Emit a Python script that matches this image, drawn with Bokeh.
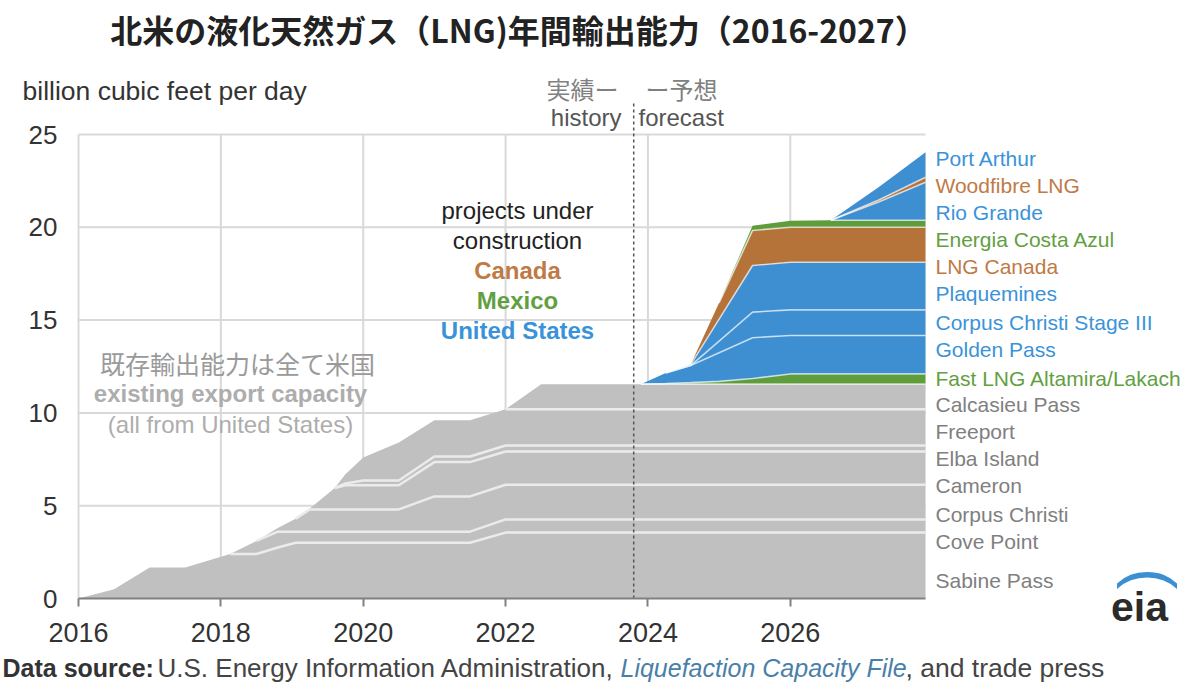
import numpy as np
from bokeh.plotting import figure
from bokeh.models import Label, FixedTicker, Range1d
from bokeh.embed import file_html
from bokeh.resources import INLINE

# ---------------- data (billion cubic feet per day, layer thickness) ----------------
years = [2016.0, 2016.5, 2017.0, 2017.5, 2018.13, 2018.5, 2018.8, 2019.05, 2019.25,
         2019.6, 2019.75, 2020.0, 2020.5, 2021.0, 2021.5, 2022.0, 2022.5, 2023.9,
         2024.25, 2024.6, 2025.0, 2025.47, 2026.0, 2026.57, 2027.25, 2027.9]

sabine_pass = [0, 0.5, 1.67, 1.67, 2.4, 2.4, 2.75, 3.0, 3.0, 3.0, 3.0, 3.0, 3.0, 3.0, 3.0,
               3.55, 3.55, 3.55, 3.55, 3.55, 3.55, 3.55, 3.55, 3.55, 3.55, 3.55]
cove_point = [0, 0, 0, 0, 0, 0.7, 0.85, 0.6, 0.6, 0.6, 0.6, 0.6, 0.6, 0.6, 0.6,
              0.71, 0.71, 0.71, 0.71, 0.71, 0.71, 0.71, 0.71, 0.71, 0.71, 0.71]
corpus_christi = [0, 0, 0, 0, 0, 0, 0.2, 0.7, 1.2, 1.2, 1.2, 1.2, 1.2, 1.9, 1.9,
                  1.87, 1.87, 1.87, 1.87, 1.87, 1.87, 1.87, 1.87, 1.87, 1.87, 1.87]
cameron = [0, 0, 0, 0, 0, 0, 0, 0, 0.05, 1.15, 1.3, 1.3, 1.3, 1.85, 1.85,
           1.79, 1.79, 1.79, 1.79, 1.79, 1.79, 1.79, 1.79, 1.79, 1.79, 1.79]
elba_island = [0, 0, 0, 0, 0, 0, 0, 0, 0, 0, 0.1, 0.26, 0.26, 0.3, 0.3,
               0.32, 0.32, 0.32, 0.32, 0.32, 0.32, 0.32, 0.32, 0.32, 0.32, 0.32]
freeport = [0, 0, 0, 0, 0, 0, 0, 0, 0, 0, 0.5, 1.24, 2.04, 1.95, 1.95,
            1.96, 1.96, 1.96, 1.96, 1.96, 1.96, 1.96, 1.96, 1.96, 1.96, 1.96]
calcasieu_pass = [0, 0, 0, 0, 0, 0, 0, 0, 0, 0, 0, 0, 0, 0, 0,
                  0, 1.35, 1.35, 1.35, 1.35, 1.35, 1.35, 1.35, 1.35, 1.35, 1.35]
fast_lng = [0, 0, 0, 0, 0, 0, 0, 0, 0, 0, 0, 0, 0, 0, 0, 0, 0,
            0, 0.03, 0.08, 0.15, 0.30, 0.55, 0.55, 0.55, 0.55]
golden_pass = [0, 0, 0, 0, 0, 0, 0, 0, 0, 0, 0, 0, 0, 0, 0, 0, 0,
               0, 0.57, 0.92, 1.54, 2.20, 2.07, 2.07, 2.07, 2.07]
corpus_christi_stage3 = [0, 0, 0, 0, 0, 0, 0, 0, 0, 0, 0, 0, 0, 0, 0, 0, 0,
                         0, 0, 0, 0.63, 1.38, 1.38, 1.38, 1.38, 1.38]
plaquemines = [0, 0, 0, 0, 0, 0, 0, 0, 0, 0, 0, 0, 0, 0, 0, 0, 0,
               0, 0, 0.05, 1.18, 2.51, 2.57, 2.57, 2.57, 2.57]
lng_canada = [0, 0, 0, 0, 0, 0, 0, 0, 0, 0, 0, 0, 0, 0, 0, 0, 0,
              0, 0, 0, 0.88, 1.89, 1.88, 1.88, 1.88, 1.88]
energia_costa_azul = [0, 0, 0, 0, 0, 0, 0, 0, 0, 0, 0, 0, 0, 0, 0, 0, 0,
                      0, 0, 0, 0, 0.25, 0.35, 0.38, 0.38, 0.38]
rio_grande = [0, 0, 0, 0, 0, 0, 0, 0, 0, 0, 0, 0, 0, 0, 0, 0, 0,
              0, 0, 0, 0, 0, 0, 0, 1.0, 2.05]
woodfibre_lng = [0, 0, 0, 0, 0, 0, 0, 0, 0, 0, 0, 0, 0, 0, 0, 0, 0,
                 0, 0, 0, 0, 0, 0, 0, 0.1, 0.27]
port_arthur = [0, 0, 0, 0, 0, 0, 0, 0, 0, 0, 0, 0, 0, 0, 0, 0, 0,
               0, 0, 0, 0, 0, 0, 0, 0.7, 1.35]

y_ticks = [0, 5, 10, 15, 20, 25]
x_ticks = [2016, 2018, 2020, 2022, 2024, 2026]
x_start, x_end = 2016, 2027.9
history_end = 2023.8

# ---------------- styles ----------------
GRAY, BLUE, BROWN, GREEN = "#c0c0c0", "#3d8fd2", "#b5733a", "#5f9d3c"
LGRAY, LBLUE, LBROWN, LGREEN = "#808080", "#3a93d8", "#c07a45", "#62a03f"

layers = [
    ("Sabine Pass", sabine_pass, GRAY, LGRAY, 580),
    ("Cove Point", cove_point, GRAY, LGRAY, 541),
    ("Corpus Christi", corpus_christi, GRAY, LGRAY, 514),
    ("Cameron", cameron, GRAY, LGRAY, 485),
    ("Elba Island", elba_island, GRAY, LGRAY, 458),
    ("Freeport", freeport, GRAY, LGRAY, 431),
    ("Calcasieu Pass", calcasieu_pass, GRAY, LGRAY, 404),
    ("Fast LNG Altamira/Lakach", fast_lng, GREEN, LGREEN, 378),
    ("Golden Pass", golden_pass, BLUE, LBLUE, 349),
    ("Corpus Christi Stage III", corpus_christi_stage3, BLUE, LBLUE, 322),
    ("Plaquemines", plaquemines, BLUE, LBLUE, 293),
    ("LNG Canada", lng_canada, BROWN, LBROWN, 266),
    ("Energia Costa Azul", energia_costa_azul, GREEN, LGREEN, 239),
    ("Rio Grande", rio_grande, BLUE, LBLUE, 212),
    ("Woodfibre LNG", woodfibre_lng, BROWN, LBROWN, 185),
    ("Port Arthur", port_arthur, BLUE, LBLUE, 158),
]

# page-pixel helpers for annotation placement (data frame: x 78..925, y=0 at 598)
W, H = 1192, 685
PX_PER_YEAR = 71.18
PX_PER_UNIT = 18.56
def dx(px):
    return 2016 + (px - 78) / PX_PER_YEAR
def dy(py):
    return (598 - py) / PX_PER_UNIT

SANS = "Liberation Sans"
JP = "Noto Sans CJK JP"

p = figure(width=W, height=H, x_range=Range1d(dx(0), dx(W)), y_range=Range1d(dy(H), dy(0)),
           output_backend="svg", toolbar_location=None, title_location=None)
p.min_border = 0
p.min_border_left = 0
p.min_border_right = 0
p.min_border_top = 0
p.min_border_bottom = 0
p.outline_line_color = None
p.background_fill_color = "white"
p.border_fill_color = "white"
p.xgrid.visible = False
p.ygrid.visible = False

GRID = "#d9d9d9"
hgrid = [t for t in y_ticks if t > 0]
p.segment(x0=[x_start] * len(hgrid), y0=hgrid, x1=[x_end] * len(hgrid), y1=hgrid,
          line_color=GRID, line_width=2)
p.segment(x0=x_ticks, y0=[0] * len(x_ticks), x1=x_ticks, y1=[max(y_ticks)] * len(x_ticks),
          line_color=GRID, line_width=2)

# axes (fixed in data space)
p.yaxis.fixed_location = x_start
p.yaxis.bounds = (0, 25)
p.yaxis.ticker = FixedTicker(ticks=y_ticks)
p.yaxis.axis_line_color = None
p.yaxis.major_tick_line_color = None
p.yaxis.minor_tick_line_color = None
p.yaxis.major_tick_out = 0
p.yaxis.major_tick_in = 0
p.yaxis.major_label_text_font = SANS
p.yaxis.major_label_text_font_size = "26px"
p.yaxis.major_label_text_color = "#333333"
p.yaxis.major_label_standoff = 21

p.xaxis.fixed_location = 0
p.xaxis.bounds = (x_start, x_end)
p.xaxis.ticker = FixedTicker(ticks=x_ticks)
p.xaxis.axis_line_color = "#808080"
p.xaxis.axis_line_width = 2
p.xaxis.major_tick_line_color = "#808080"
p.xaxis.major_tick_line_width = 2
p.xaxis.major_tick_out = 8
p.xaxis.major_tick_in = 0
p.xaxis.minor_tick_line_color = None
p.xaxis.major_label_text_font = SANS
p.xaxis.major_label_text_font_size = "27px"
p.xaxis.major_label_text_color = "#333333"
p.xaxis.major_label_standoff = 16

# stacked areas
x = np.array(years, dtype=float)
base = np.zeros(len(x))
tops = []
for name, vals, fill, lc, ly in layers:
    top = base + np.array(vals, dtype=float)
    p.varea(x=x, y1=base, y2=top, fill_color=fill)
    tops.append(top)
    base = top
total = base

# separator lines between layers
for i, (name, vals, fill, lc, ly) in enumerate(layers[:-1]):
    top = tops[i]
    pos = (total - top) > 0.01
    mask = pos.copy()
    mask[1:] |= pos[:-1]
    mask[:-1] |= pos[1:]
    yy = np.where(mask, top, np.nan)
    nxt = layers[i + 1][2]
    if fill == GRAY and nxt == GRAY:
        p.line(x, yy, line_color="#ebebeb", line_width=2.5)
    else:
        p.line(x, yy, line_color="white", line_alpha=0.65, line_width=1.6)

# history / forecast divider
p.segment(x0=[history_end], y0=[0], x1=[history_end], y1=[dy(100)],
          line_color="#555555", line_dash="3 3", line_width=1.5)

def lab(px, py, text, size, color="#333333", font=SANS, style="normal", align="left"):
    p.add_layout(Label(x=dx(px), y=dy(py), text=text, text_font=font,
                       text_font_size=f"{size}px", text_color=color, text_font_style=style,
                       text_align=align, text_baseline="middle"))

# right-hand labels
for name, vals, fill, lc, ly in layers:
    lab(935, ly, name, 21, lc)

# title and headers
lab(518, 28, "北米の液化天然ガス（LNG)年間輸出能力（2016-2027）", 32, "#222222", JP, "bold", "center")
lab(22, 90, "billion cubic feet per day", 26.5, "#333333")
lab(618, 88, "実績ー", 24, "#808080", JP, "normal", "right")
lab(645, 88, "ー予想", 24, "#808080", JP, "normal", "left")
lab(621, 117, "history", 24, "#555555", SANS, "normal", "right")
lab(638, 117, "forecast", 24, "#555555", SANS, "normal", "left")

# in-plot annotations
lab(517, 210, "projects under", 24, "#222222", SANS, "normal", "center")
lab(517, 240, "construction", 24, "#222222", SANS, "normal", "center")
lab(517, 270, "Canada", 24, LBROWN, SANS, "bold", "center")
lab(517, 300, "Mexico", 24, LGREEN, SANS, "bold", "center")
lab(517, 330, "United States", 24, LBLUE, SANS, "bold", "center")
lab(237, 362, "既存輸出能力は全て米国", 25, "#9a9a9a", JP, "normal", "center")
lab(230, 393, "existing export capacity", 24, "#adadad", SANS, "bold", "center")
lab(230, 424, "(all from United States)", 24, "#adadad", SANS, "normal", "center")

# footer
lab(2, 667, "Data source:", 25, "#333333", SANS, "bold")
lab(157, 667, "U.S. Energy Information Administration,", 26, "#444444")
lab(620, 667, "Liquefaction Capacity File", 25, "#4a7fa8", SANS, "italic")
lab(905, 667, ", and trade press", 26.5, "#444444")

# eia logo
p.add_layout(Label(x=dx(1141), y=dy(578), text=")", text_font=SANS, text_font_size="64px",
                   text_color="#3b8fd3", angle=np.pi / 2, text_align="center",
                   text_baseline="middle"))
lab(1139, 606, "eia", 41, "#2b2b2b", SANS, "bold", "center")

open("out.html", "w").write(file_html(p, INLINE))
